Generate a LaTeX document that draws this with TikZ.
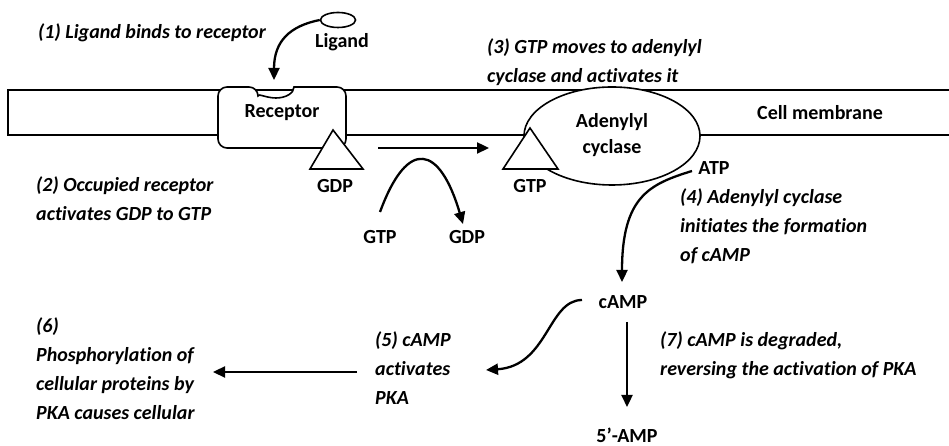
\documentclass[tikz,border=0pt]{standalone}
\usepackage{fontspec}
\setmainfont{Carlito}[Ligatures=NoCommon]
\usetikzlibrary{shapes.geometric,arrows.meta}

\tikzset{
  lbl/.style={font=\fontsize{20}{29}\selectfont\bfseries, inner sep=2pt},
  step note/.style={font=\fontsize{20}{29}\selectfont\bfseries\itshape, align=left, anchor=west, inner sep=0pt},
  part/.style={line width=1.6pt},
  flow/.style={line width=2.3pt, -{Triangle[length=12pt,width=11pt]}}
}

\begin{document}
\begin{tikzpicture}[x=1pt,y=1pt]
\useasboundingbox (0,0) rectangle (949,446);

% membrane
\draw[part,fill=white] (949,356) -- (8,356) -- (8,311) -- (949,311);

% receptor with its binding notch
\draw[part,fill=white,rounded corners=9] (218,298) -- (218,359) -- (258,359)
  [sharp corners] arc[start angle=180,end angle=360,x radius=18,y radius=11]
  [rounded corners=9] -- (346,359) -- (346,298) -- cycle;
\node[lbl] (rec) at (282,333) {Receptor};
\coordinate (notch) at (274,366);

% adenylyl cyclase
\node[part,draw,fill=white,ellipse,minimum width=176,minimum height=98,inner sep=0pt] (ac) at (612,310) {};
\node[lbl,align=center,font=\fontsize{20}{26}\selectfont\bfseries] (actext) at (612,311) {Adenylyl\\cyclase};
\node[lbl] (cm) at (820,333) {Cell membrane};

% G protein triangles
\draw[part,fill=white] (310,277) -- (333,316) -- (363,277) -- cycle;
\draw[part,fill=white] (503,277) -- (530,318) -- (558,277) -- cycle;

% ligand
\node[part,draw,ellipse,minimum width=35,minimum height=15,inner sep=0pt] (lig) at (338,426) {};
\node[lbl] (ligtext) at (342,404) {Ligand};

% labels
\node[lbl] (gdpa) at (335,260) {GDP};
\node[lbl] (gtpa) at (530,260) {GTP};
\node[lbl] (gtpb) at (380,209) {GTP};
\node[lbl] (gdpb) at (467,209) {GDP};
\node[lbl] (atp) at (714,278) {ATP};
\node[lbl] (camp) at (623,144) {cAMP};
\node[lbl] (amp) at (627,11) {5’-AMP};

% steps
\node[step note] (s1) at (38,413) {(1) Ligand binds to receptor};
\node[step note] (s2) at (36,247) {(2) Occupied receptor\\activates GDP to GTP};
\node[step note] (s3) at (487,384) {(3) GTP moves to adenylyl\\cyclase and activates it};
\node[step note] (s4) at (680,220) {(4) Adenylyl cyclase\\initiates the formation\\of cAMP};
\node[step note] (s5) at (375,78) {(5) cAMP\\activates\\PKA};
\node[step note] (s6) at (36,77) {(6)\\Phosphorylation of\\cellular proteins by\\PKA causes cellular};
\node[step note] (s7) at (660,91) {(7) cAMP is degraded,\\reversing the activation of PKA};

% arrows
\coordinate (gfrom) at (378,298);
\coordinate (gto) at (489,298);
\coordinate (gtpstart) at (380,234);
\coordinate (gdpend) at (463,222);
\coordinate (atpstart) at (692,275);
\coordinate (camptop) at (622,164);
\coordinate (campleft) at (582,146);
\coordinate (pkatip) at (486,76);
\coordinate (pkafrom) at (357,74);
\coordinate (phostip) at (213,74);
\coordinate (ampfrom) at (627,124);
\coordinate (amptip) at (627,39);
\draw[flow] (lig.west) .. controls (290,420) and (274,405) .. (notch);
\draw[flow] (gfrom) -- (gto);
\draw[flow] (gtpstart) .. controls (408,310) and (440,300) .. (gdpend);
\draw[flow] (atpstart) .. controls (650,262) and (622,250) .. (camptop);
\draw[flow] (campleft) .. controls (548,146) and (548,80) .. (pkatip);
\draw[flow] (ampfrom) -- (amptip);
\draw[flow] (pkafrom) -- (phostip);
\end{tikzpicture}
\end{document}
